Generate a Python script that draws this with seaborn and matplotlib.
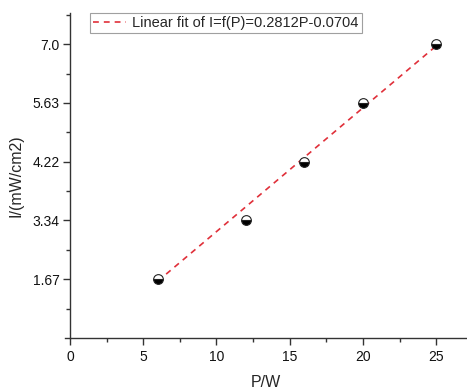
import numpy as np
import pandas as pd
import seaborn as sns
import matplotlib.pyplot as plt
from matplotlib.ticker import FixedLocator

# measured data
power = [6, 12, 16, 20, 25]
intensity = [1.67, 3.34, 4.22, 5.63, 7.0]
y_tick_labels = ['1.67', '3.34', '4.22', '5.63', '7.0']
x_ticks = [0, 5, 10, 15, 20, 25]

# linear fit from legend
slope = 0.2812
intercept = -0.0704
fit_p = [6, 25]

sns.set_style('ticks')
plt.rcParams['font.family'] = ['Liberation Sans', 'DejaVu Sans']

df = pd.DataFrame({'P': power, 'I': intensity})
fit = pd.DataFrame({'P': fit_p, 'I': [slope * p + intercept for p in fit_p]})

# y axis in the original is evenly spaced at the measured values
y_ref = [0.0] + intensity + [intensity[-1] + (intensity[-1] - intensity[-2])]
pos_ref = list(range(len(y_ref)))
fwd = lambda y: np.interp(y, y_ref, pos_ref)
inv = lambda p: np.interp(p, pos_ref, y_ref)

fig = plt.figure(figsize=(4.67, 3.9), dpi=100)
ax = fig.add_axes([65 / 467, 1 - 338 / 390, 1 - 65 / 467, (338 - 13) / 390])
ax.set_yscale('function', functions=(fwd, inv))

sns.lineplot(data=fit, x='P', y='I', ax=ax, color='#e0303a', linestyle=(0, (3.5, 3)),
             linewidth=1.2, label='Linear fit of I=f(P)=0.2812P-0.0704')
sns.lineplot(data=df, x='P', y='I', ax=ax, linestyle='', marker='o', markersize=7,
             fillstyle='bottom', markerfacecolor='black', markerfacecoloralt='white',
             markeredgecolor='#222222', markeredgewidth=0.8)

ax.set_xlim(-0.34, 27.1)
ax.set_ylim(0, float(inv(5.53)))
ax.spines['left'].set_position(('data', 0))
ax.spines['right'].set_visible(False)
ax.spines['top'].set_visible(False)

ax.set_xticks(x_ticks)
ax.xaxis.set_minor_locator(FixedLocator([2.5, 7.5, 12.5, 17.5, 22.5]))
ax.set_yticks(intensity)
ax.set_yticklabels(y_tick_labels)
ax.yaxis.set_minor_locator(FixedLocator([float(inv(p + 0.5)) for p in range(6)]))
ax.tick_params(which='major', length=5, width=1, labelsize=10, color='#333333',
               labelcolor='#111111')
ax.tick_params(axis='y', which='major', pad=2.5)
ax.tick_params(which='minor', length=3, width=1, color='#333333')
for s in ['left', 'bottom']:
    ax.spines[s].set_color('#333333')
    ax.spines[s].set_linewidth(1)

ax.set_xlabel('P/W', fontsize=11.5, labelpad=8)
ax.set_ylabel('I/(mW/cm2)', fontsize=11.5, labelpad=6)

leg = ax.legend(loc='upper left', bbox_to_anchor=(0.062, 1.0), fontsize=10.5, frameon=True,
                fancybox=False, edgecolor='#888888', handlelength=2.3, borderpad=0.2,
                handletextpad=0.4, borderaxespad=0)
leg.get_frame().set_linewidth(0.8)

fig.savefig('out.png', dpi=100)
